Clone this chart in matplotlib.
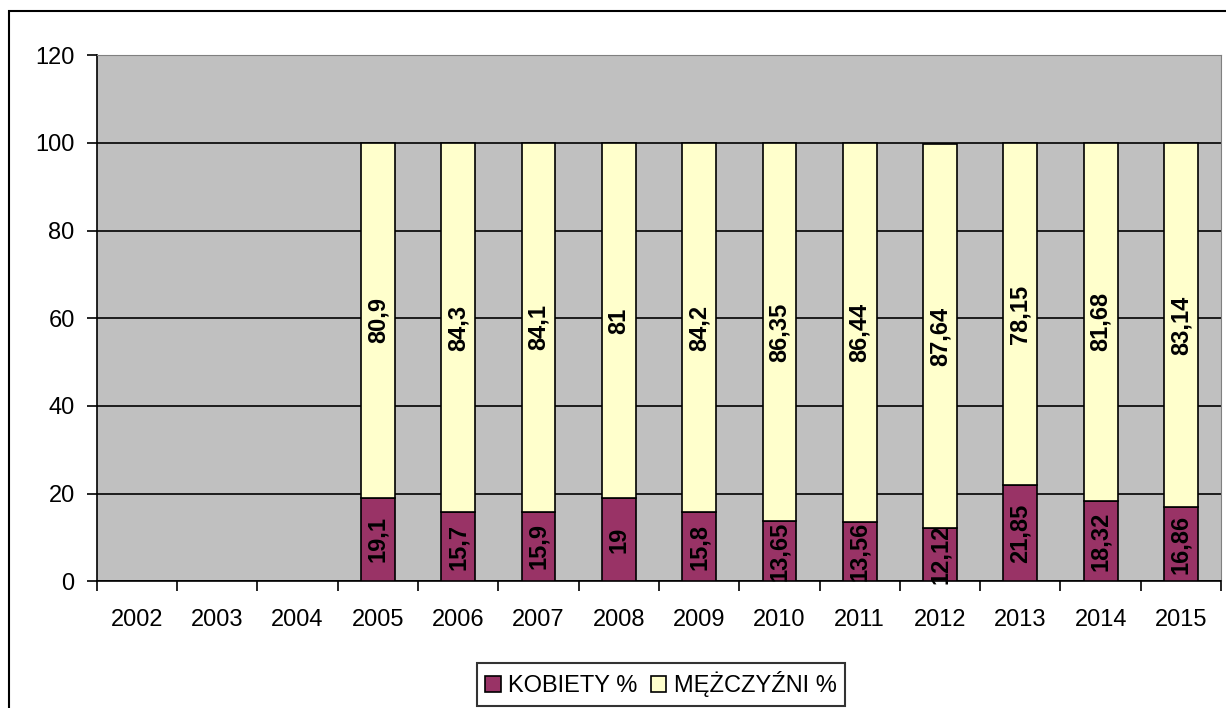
import numpy as np
import matplotlib.pyplot as plt
from matplotlib.ticker import FixedLocator

plt.rcParams['font.family'] = ['Liberation Sans', 'DejaVu Sans']

# ── Data ─────────────────────────────────────────────────────
years = ['2002', '2003', '2004', '2005', '2006', '2007', '2008',
         '2009', '2010', '2011', '2012', '2013', '2014', '2015']
kobiety = [np.nan, np.nan, np.nan, 19.1, 15.7, 15.9, 19, 15.8,
           13.65, 13.56, 12.12, 21.85, 18.32, 16.86]
mezczyzni = [np.nan, np.nan, np.nan, 80.9, 84.3, 84.1, 81, 84.2,
             86.35, 86.44, 87.64, 78.15, 81.68, 83.14]
k_labels = ['', '', '', '19,1', '15,7', '15,9', '19', '15,8',
            '13,65', '13,56', '12,12', '21,85', '18,32', '16,86']
m_labels = ['', '', '', '80,9', '84,3', '84,1', '81', '84,2',
            '86,35', '86,44', '87,64', '78,15', '81,68', '83,14']

# ── Plot ─────────────────────────────────────────────────────
fig = plt.figure(figsize=(12.26, 7.08), dpi=100)
ax = fig.add_axes([0.079, 0.179, 0.917, 0.743])

# outer chart border
fig.patches.append(plt.Rectangle((0.0075, -0.1), 1.2, 1.0845, transform=fig.transFigure,
                                 fill=False, edgecolor='black', lw=1.5, zorder=0))

ax.set_facecolor('#C0C0C0')
x = np.arange(len(years))
w = 0.42

k = np.array(kobiety, dtype=float)
m = np.array(mezczyzni, dtype=float)
ax.bar(x, k, w, color='#993366', edgecolor='black', lw=1.2, zorder=3,
       label='KOBIETY %')
ax.bar(x, m, w, bottom=k, color='#FFFFCC', edgecolor='black', lw=1.2, zorder=3,
       label='MĘŻCZYŹNI %')

# value labels, rotated, centred in each segment
for i in range(len(years)):
    if np.isnan(k[i]):
        continue
    ax.text(x[i], k[i] / 2, k_labels[i], rotation=90, ha='center', va='center',
            fontsize=17, fontweight='bold', zorder=4)
    ax.text(x[i], k[i] + m[i] / 2, m_labels[i], rotation=90, ha='center',
            va='center', fontsize=17, fontweight='bold', zorder=4)

ax.set_xlim(-0.5, len(years) - 0.5)
ax.set_ylim(0, 120)
ax.set_yticks(range(0, 121, 20))
ax.yaxis.grid(True, color='black', lw=1.2, zorder=1)
ax.set_axisbelow(True)

ax.set_xticks(x)
ax.set_xticklabels(years)
ax.xaxis.set_minor_locator(FixedLocator(np.arange(-0.5, len(years), 1)))
ax.tick_params(axis='x', which='major', length=0, pad=20, labelsize=17)
ax.tick_params(axis='x', which='minor', length=7, width=1.2, direction='out')
ax.tick_params(axis='y', length=7, width=1.2, labelsize=17, pad=9)

for s in ['top', 'right']:
    ax.spines[s].set_color('#808080')
for s in ['left', 'bottom']:
    ax.spines[s].set_color('black')
    ax.spines[s].set_linewidth(1.2)

leg = fig.legend(loc='lower center', bbox_to_anchor=(0.539, 0.0), ncol=2,
                 frameon=True, fancybox=False, edgecolor='black', fontsize=17,
                 handlelength=0.65, handleheight=0.65, handletextpad=0.3,
                 columnspacing=0.6, borderpad=0.35, borderaxespad=0.1)
leg.get_frame().set_linewidth(1.5)

plt.savefig('out.png', dpi=100)
